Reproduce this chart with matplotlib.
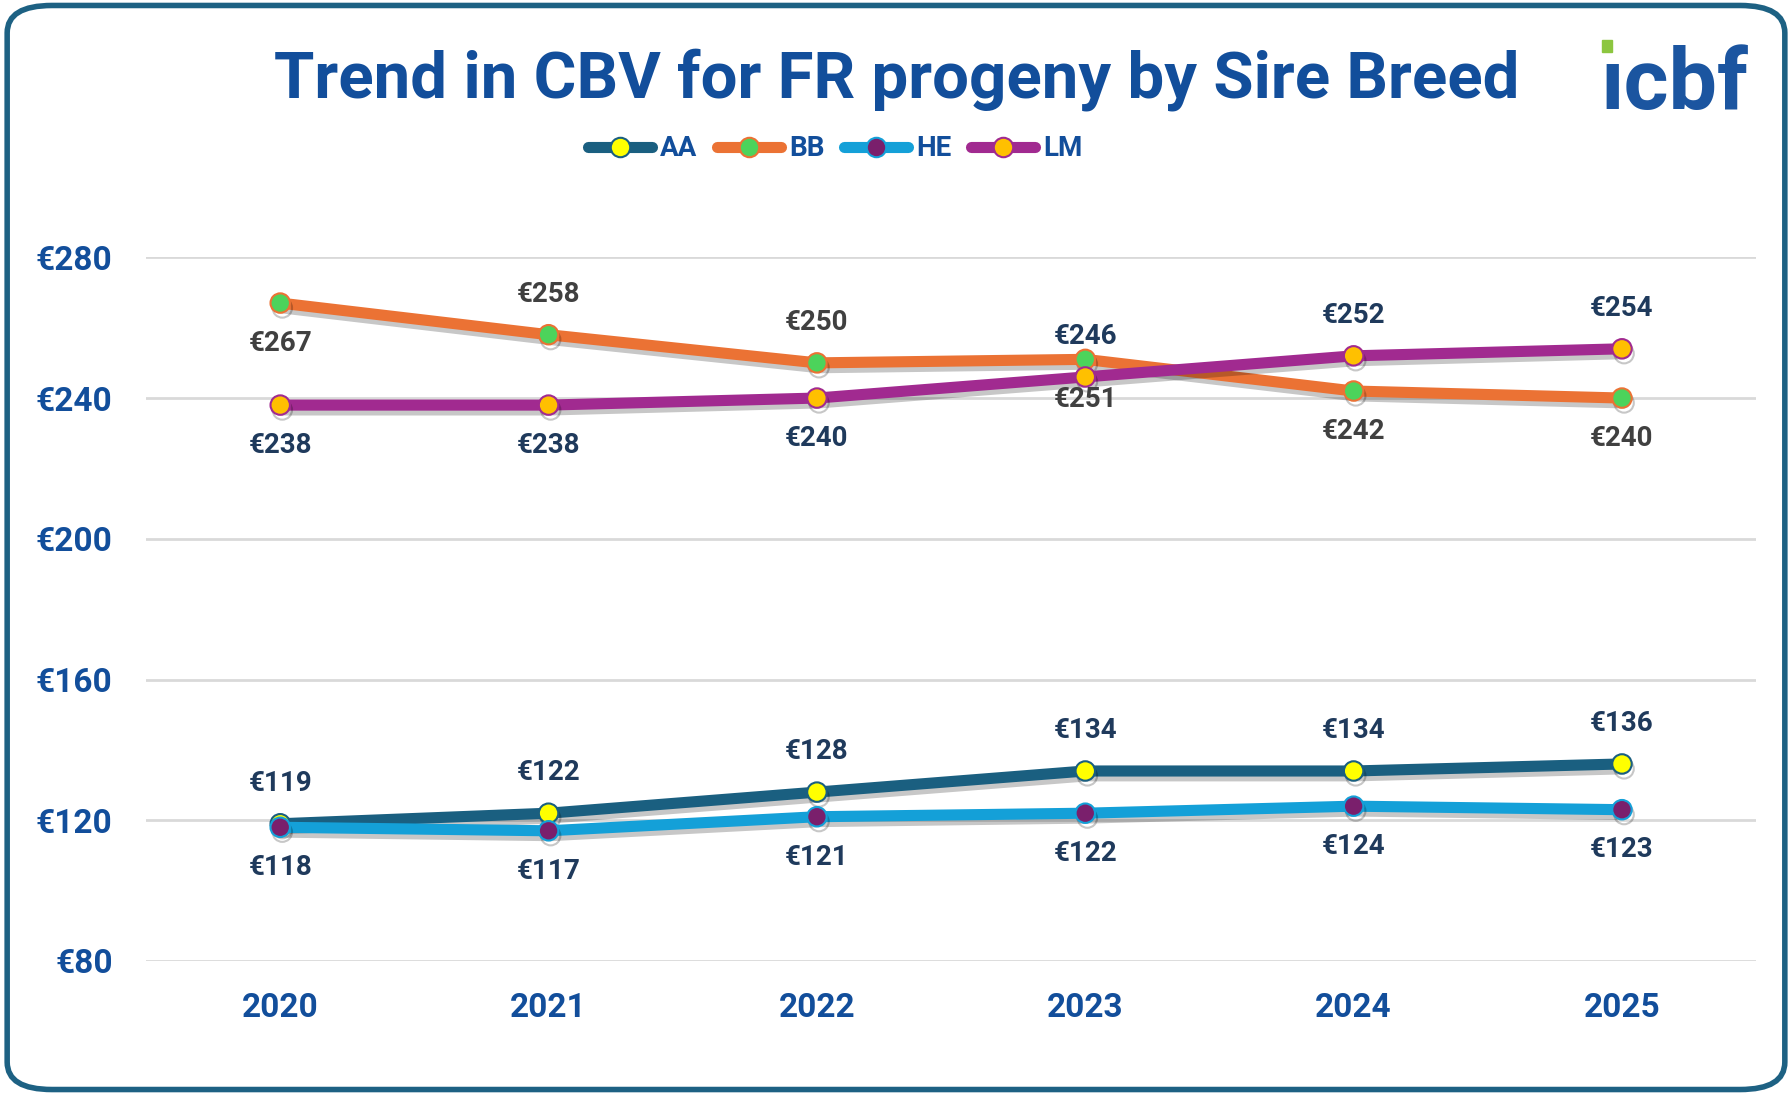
import matplotlib.pyplot as plt
import matplotlib.patheffects as pe
from matplotlib.patches import FancyBboxPatch, Rectangle
from matplotlib.lines import Line2D

years = ["2020", "2021", "2022", "2023", "2024", "2025"]
breeds = ["AA", "BB", "HE", "LM"]
aa = [119, 122, 128, 134, 134, 136]
bb = [267, 258, 250, 251, 242, 240]
he = [118, 117, 121, 122, 124, 123]
lm = [238, 238, 240, 246, 252, 254]
# where each data label sits: +1 above the point, -1 below
aa_side = [1, 1, 1, 1, 1, 1]
bb_side = [-1, 1, 1, -1, -1, -1]
he_side = [-1, -1, -1, -1, -1, -1]
lm_side = [-1, -1, -1, 1, 1, 1]
yticks = [80, 120, 160, 200, 240, 280]

line_cols = ["#1A5F80", "#EB7234", "#14A0D8", "#A12A90"]
face_cols = ["#FFFF00", "#4CD35B", "#7A1F6C", "#FFC000"]
label_cols = ["#1F3A5C", "#404040", "#1F3A5C", "#1F3A5C"]
blue = "#124E9B"
narrow = ["Roboto", "DejaVu Sans"]

fig = plt.figure(figsize=(17.92, 10.95), dpi=100)
fig.patches.append(FancyBboxPatch((0.004, 0.005), 0.992, 0.99,
                                  boxstyle="round,pad=0,rounding_size=0.025",
                                  transform=fig.transFigure, facecolor="white",
                                  edgecolor="#1D6183", linewidth=4, zorder=-10))

ax = fig.add_axes([0.0815, 0.1224, 0.8985, 0.6426])
ax.set_facecolor("none")
x = list(range(len(years)))

series = [aa, bb, he, lm]
sides = [aa_side, bb_side, he_side, lm_side]
shadow = [pe.SimpleLineShadow(offset=(1.5, -3.5), shadow_color="black", alpha=0.22), pe.Normal()]
for i, name in enumerate(breeds):
    ax.plot(x, series[i], color=line_cols[i], lw=8, solid_capstyle="round",
            solid_joinstyle="round", marker="o", ms=14, mfc=face_cols[i],
            mec=line_cols[i], mew=1.5, zorder=3 + i, path_effects=shadow)
    for xi, v, s in zip(x, series[i], sides[i]):
        ax.annotate(f"€{v}", (xi, v), xytext=(0, 29 * s), textcoords="offset points",
                    ha="center", va="center", fontsize=20, fontweight="bold",
                    color=label_cols[i], family=narrow, zorder=10)

ax.set_xlim(-0.5, 5.5)
ax.set_ylim(80, 280)
ax.set_xticks(x, years)
ax.set_yticks(yticks, [f"€{t}" for t in yticks])
ax.grid(axis="y", color="#D9D9D9", lw=2)
ax.set_axisbelow(True)
for sp in ax.spines.values():
    sp.set_visible(False)
ax.tick_params(length=0)
ax.tick_params(axis="x", pad=22)
ax.tick_params(axis="y", pad=24)
for lab in ax.get_xticklabels() + ax.get_yticklabels():
    lab.set_fontsize(24)
    lab.set_fontweight("bold")
    lab.set_color(blue)
    lab.set_family(narrow)

# title, scaled to the reference width
title = fig.text(0.5005, 0.911, "Trend in CBV for FR progeny by Sire Breed", ha="center",
                 va="baseline", fontsize=50, fontweight="bold", color=blue, family=narrow)
fig.canvas.draw()
w = title.get_window_extent().width
title.set_fontsize(50 * 1246 / w)

# logo
fig.text(0.893, 0.9008, "ıcbf", ha="left", va="baseline", fontsize=62,
         fontweight="semibold", color="#1B55A0", family=narrow)
fig.patches.append(Rectangle((1602 / 1792, 1 - 52 / 1095), 10 / 1792, 12 / 1095,
                             transform=fig.transFigure, color="#8CC63F"))

handles = [Line2D([], [], color=line_cols[i], lw=8, solid_capstyle="round", marker="o",
                  ms=14, mfc=face_cols[i], mec=line_cols[i], mew=1.5) for i in range(4)]
fig.legend(handles, breeds, loc="center", bbox_to_anchor=(0.466, 0.864), ncol=4,
           frameon=False, handlelength=2.3, handletextpad=0.3, columnspacing=0.7,
           numpoints=1, prop={"family": narrow, "weight": "bold", "size": 20},
           labelcolor=blue)

fig.savefig("out.png", dpi=100)
plt.close(fig)
